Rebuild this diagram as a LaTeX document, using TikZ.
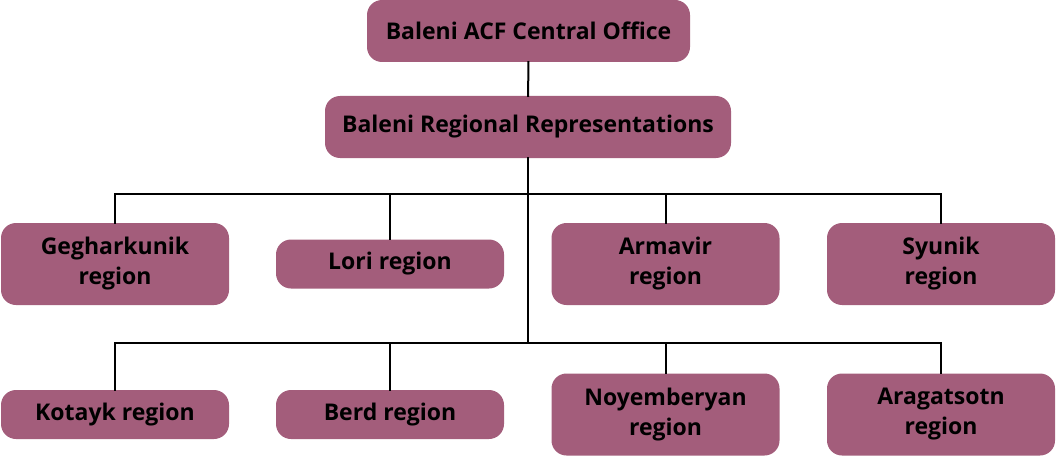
\documentclass[tikz,border=0pt]{standalone}
\usepackage{fontspec}
\setmainfont{Open Sans}
\usetikzlibrary{positioning}
\definecolor{boxcol}{HTML}{A35D7B}
\tikzset{
  unit/.style={draw=none, fill=boxcol, rounded corners=15pt, align=center,
    inner sep=0pt, font=\fontsize{23}{30}\selectfont\bfseries},
  widebox/.style={unit, minimum width=228pt, minimum height=82pt},
  flatbox/.style={unit, minimum width=228pt, minimum height=49pt},
  link/.style={line width=2pt, black}
}
\begin{document}
\begin{tikzpicture}[x=1pt,y=1pt,line cap=rect]
\useasboundingbox (0,0) rectangle (1056,456);
% top of the chart
\node[unit, minimum width=323pt, minimum height=62pt] (central) at (528.5,425) {Baleni ACF Central Office};
\node[unit, minimum width=406pt, minimum height=62pt] (regional) at (528,329) {Baleni Regional Representations};
% first row
\node[widebox] (gegh) at (115,192) {Gegharkunik\\region};
\node[flatbox] (lori) at (390,192) {Lori region};
\node[widebox] (armavir) at (665.5,192) {Armavir\\region};
\node[widebox] (syunik) at (941,192) {Syunik\\region};
% second row
\node[flatbox] (kotayk) at (115,41.5) {Kotayk region};
\node[flatbox] (berd) at (390,41.5) {Berd region};
\node[widebox] (noyem) at (665.5,41.5) {Noyemberyan\\region};
\node[widebox] (aragats) at (941,41.5) {Aragatsotn\\region};
\coordinate (busone) at (528,262);
\coordinate (bustwo) at (528,113);
% connectors
\draw[link] (central) -- (regional);
\draw[link] (regional.south) -- (bustwo);
\draw[link] (gegh.north) |- (busone) -| (syunik.north);
\draw[link] (lori.north) -- (lori.north |- busone);
\draw[link] (armavir.north) -- (armavir.north |- busone);
\draw[link] (kotayk.north) |- (bustwo) -| (aragats.north);
\draw[link] (berd.north) -- (berd.north |- bustwo);
\draw[link] (noyem.north) -- (noyem.north |- bustwo);
\end{tikzpicture}
\end{document}
